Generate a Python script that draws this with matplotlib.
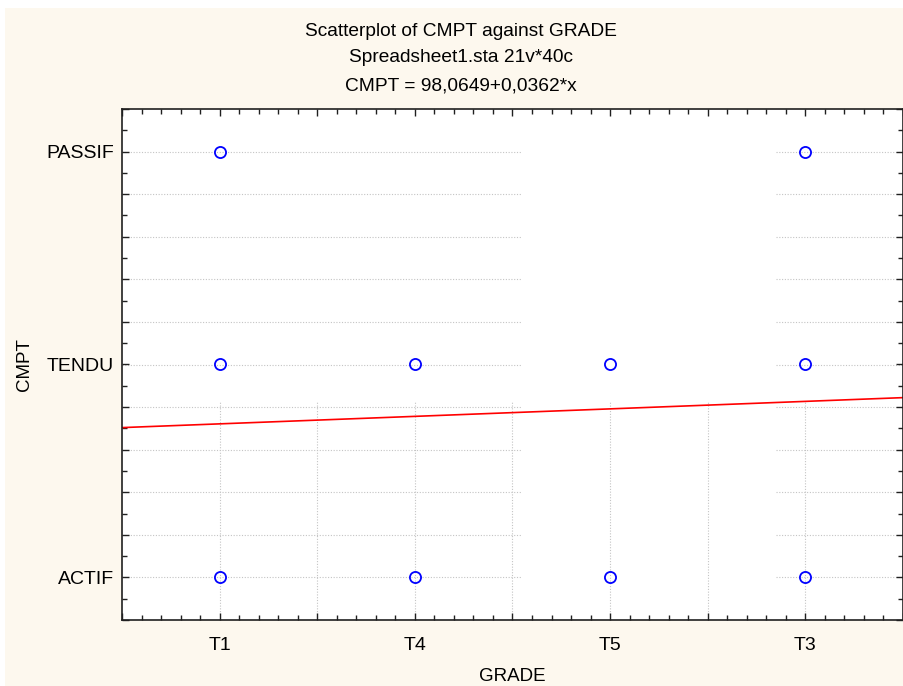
import numpy as np
import matplotlib.pyplot as plt
from matplotlib.patches import Rectangle
from matplotlib.ticker import MultipleLocator, FuncFormatter

plt.rcParams['font.family'] = ['Liberation Sans', 'DejaVu Sans']

grades = ['T1', 'T4', 'T5', 'T3']
levels = ['ACTIF', 'TENDU', 'PASSIF']

# observed (grade, behaviour) pairs
pt_grade = ['T1', 'T1', 'T1', 'T4', 'T4', 'T5', 'T5', 'T3', 'T3', 'T3']
pt_cmpt = ['PASSIF', 'TENDU', 'ACTIF', 'TENDU', 'ACTIF', 'TENDU', 'ACTIF',
           'PASSIF', 'TENDU', 'ACTIF']

# fitted line (in category units as drawn)
fit_intercept = 1.686
fit_slope = 0.0352

xs = np.array([grades.index(g) + 1 for g in pt_grade])
ys = np.array([levels.index(c) + 1 for c in pt_cmpt])

fig = plt.figure(figsize=(9.04, 6.86), dpi=100)
fig.patch.set_facecolor('white')
fig.patches.append(Rectangle((5 / 904, 0), 1, 1 - 8 / 686, transform=fig.transFigure,
                             facecolor='#fdf8ee', edgecolor='none', zorder=-10))

ax = fig.add_axes([122 / 904, 66 / 686, 781 / 904, 511 / 686])
ax.set_facecolor('white')
ax.set_xlim(0.5, 4.5)
ax.set_ylim(0.8, 3.2)

# patchy grid like the original
gc = '#c4c4c4'
for gy in np.arange(1.0, 3.01, 0.2):
    ax.hlines(gy, 0.5, 2.55, colors=gc, linestyles=(0, (1, 1.5)), linewidth=0.8, zorder=1)
    ax.hlines(gy, 3.85, 4.5, colors=gc, linestyles=(0, (1, 1.5)), linewidth=0.8, zorder=1)
for gx in np.arange(1.0, 4.01, 0.5):
    ax.vlines(gx, 0.8, 1.83, colors=gc, linestyles=(0, (1, 1.5)), linewidth=0.8, zorder=1)

xl = np.array([0.5, 4.5])
ax.plot(xl, fit_intercept + fit_slope * xl, color='red', linewidth=1.2, zorder=2)
ax.plot(xs, ys, 'o', markerfacecolor='none', markeredgecolor='blue',
        markersize=8, markeredgewidth=1.3, linestyle='none', zorder=3)

ax.xaxis.set_major_locator(MultipleLocator(0.5))
ax.xaxis.set_minor_locator(MultipleLocator(0.1))
ax.yaxis.set_major_locator(MultipleLocator(0.2))
ax.yaxis.set_minor_locator(MultipleLocator(0.1))


def xfmt(v, pos):
    r = round(v)
    if abs(v - r) < 1e-6 and 1 <= r <= len(grades):
        return grades[r - 1]
    return ''


def yfmt(v, pos):
    r = round(v)
    if abs(v - r) < 1e-6 and 1 <= r <= len(levels):
        return levels[r - 1]
    return ''


ax.xaxis.set_major_formatter(FuncFormatter(xfmt))
ax.yaxis.set_major_formatter(FuncFormatter(yfmt))
ax.tick_params(which='both', direction='in', top=True, right=True, width=1.0,
               color='#202020', labelsize=14)
ax.tick_params(which='major', length=5)
ax.tick_params(axis='x', which='major', pad=12)
ax.tick_params(axis='y', which='major', pad=6)
ax.tick_params(which='minor', length=3.5)
for s in ax.spines.values():
    s.set_linewidth(1.2)
    s.set_color('#202020')

ax.set_xlabel('GRADE', fontsize=13.5, labelpad=10)
ax.set_ylabel('CMPT', fontsize=13.5, labelpad=9)

fig.text(0.51, 1 - 31 / 686, 'Scatterplot of CMPT against GRADE', ha='center', va='center', fontsize=13.8)
fig.text(0.51, 1 - 58 / 686, 'Spreadsheet1.sta 21v*40c', ha='center', va='center', fontsize=13.8)
fig.text(0.51, 1 - 86 / 686, 'CMPT = 98,0649+0,0362*x', ha='center', va='center', fontsize=13.8)

fig.savefig('out.png', dpi=100, facecolor=fig.get_facecolor())
